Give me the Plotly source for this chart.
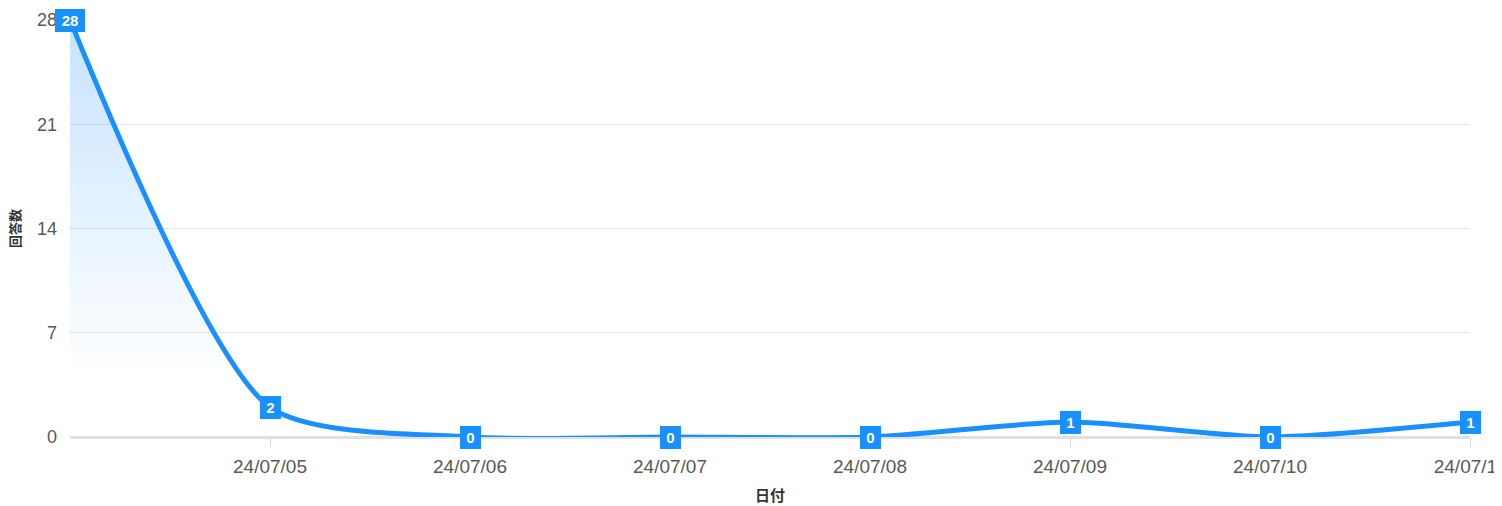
import plotly.graph_objects as go

dates = ["24/07/04", "24/07/05", "24/07/06", "24/07/07", "24/07/08", "24/07/09", "24/07/10", "24/07/11"]
counts = [28, 2, 0, 0, 0, 1, 0, 1]
y_ticks = [0, 7, 14, 21, 28]
shown_ticks = dates[1:]

LINE = "#1890ff"
FONT = "Liberation Sans, Arial, Noto Sans CJK JP, sans-serif"

fig = go.Figure()
fig.add_trace(go.Scatter(
    x=dates, y=counts, mode="lines",
    line=dict(color=LINE, width=5, shape="spline", smoothing=0.7),
    fill="tozeroy",
    fillgradient=dict(type="vertical", colorscale=[
        [0, "rgba(24,144,255,0)"], [0.15, "rgba(24,144,255,0)"],
        [1, "rgba(24,144,255,0.25)"]]),
    cliponaxis=False, hoverinfo="skip", showlegend=False,
))

for d, v in zip(dates, counts):
    s = str(v)
    fig.add_annotation(
        x=d, y=v, text=f"<b>{s}</b>", showarrow=False,
        bgcolor=LINE, bordercolor=LINE, borderpad=2,
        width=9 * len(s) + 6, align="center",
        font=dict(color="white", size=15, family=FONT),
        xanchor="center", yanchor="middle",
    )

fig.update_layout(
    width=1494, height=498,
    margin=dict(l=62, r=32, t=12, b=69),
    paper_bgcolor="white", plot_bgcolor="white",
    font=dict(family=FONT, color="#595959", size=18),
    xaxis=dict(
        type="category", range=[0, len(dates) - 1], automargin=False,
        tickmode="array", tickvals=shown_ticks, ticktext=shown_ticks,
        ticks="outside", ticklen=9, tickcolor="#d9d9d9", ticklabelstandoff=3,
        showgrid=False, zeroline=False, showline=False,
        tickfont=dict(size=19, color="#595959"),
        title=dict(text="<b>日付</b>", font=dict(size=15, color="#333", family=FONT), standoff=14),
    ),
    yaxis=dict(
        range=[0, 28], tickmode="array", tickvals=y_ticks, automargin=False,
        showgrid=True, gridcolor="#e6e6e6", gridwidth=1,
        zeroline=True, zerolinecolor="#e0e0e0", zerolinewidth=3,
        showline=False, ticks="", ticklabelstandoff=12,
        tickfont=dict(size=18, color="#595959"),
        title=dict(text="<b>回答数</b>", font=dict(size=13, color="#333", family=FONT), standoff=14),
    ),
)

fig.write_html("out.html")
